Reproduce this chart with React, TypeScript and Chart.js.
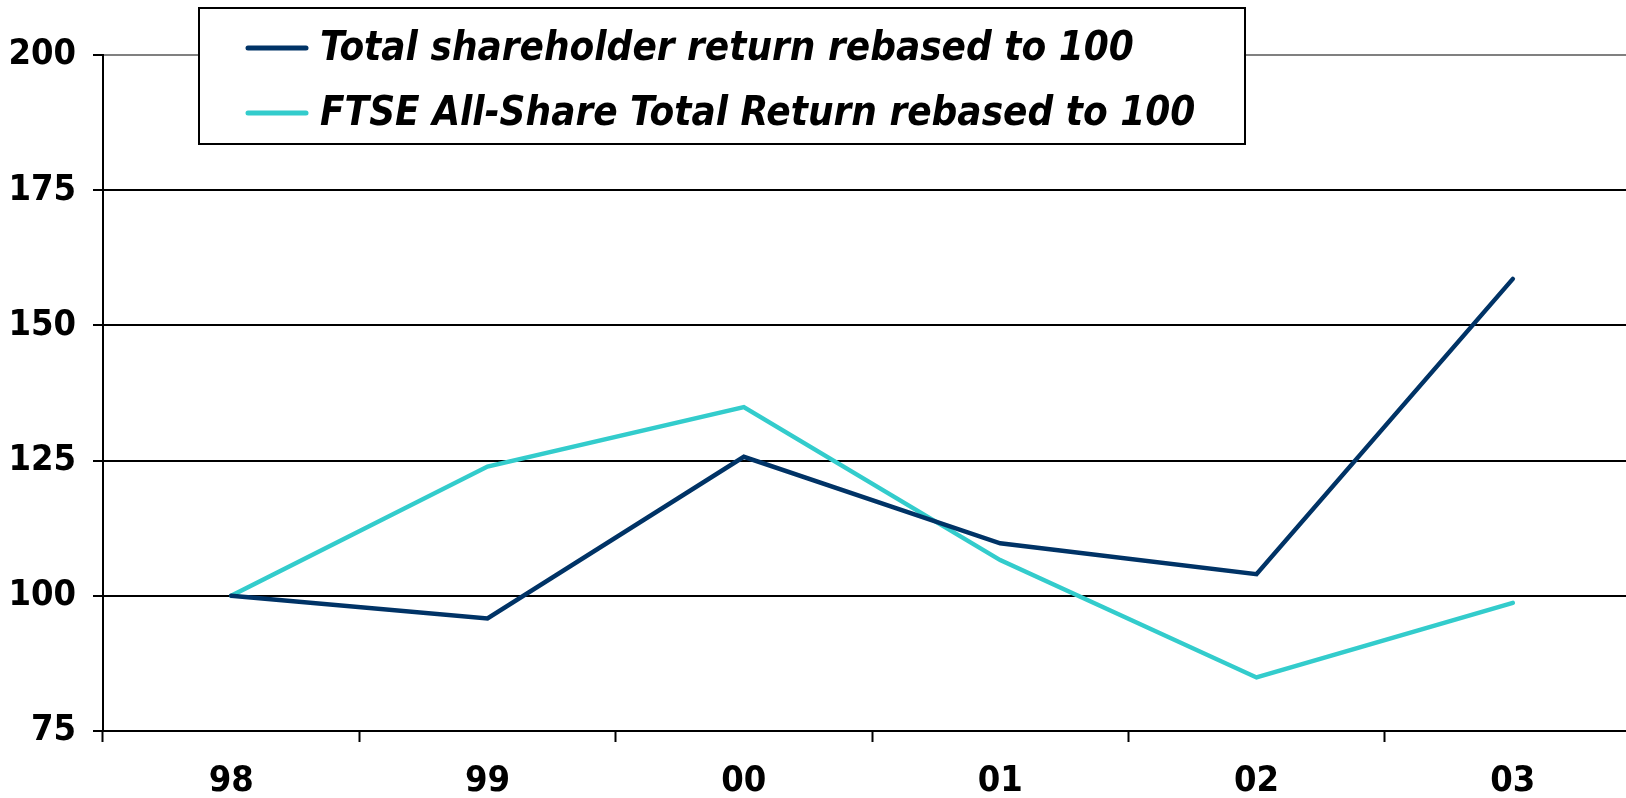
import { useEffect, useRef } from "react";
import { Chart, registerables } from "chart.js";

Chart.register(...registerables);

const years = ["98", "99", "00", "01", "02", "03"];
const shareholderReturn = [100, 95.8, 125.7, 109.7, 104.0, 158.6];
const ftseAllShare = [100, 123.9, 134.9, 106.6, 84.9, 98.7];
const seriesLabels = [
  "Total shareholder return rebased to 100",
  "FTSE All-Share Total Return rebased to 100",
];
const seriesColors = ["#003366", "#33CCCC"];
const yMin = 75;
const yMax = 200;
const yStep = 25;

const FONT = '"DejaVu Sans Condensed", "DejaVu Sans", sans-serif';

const boxLegend = {
  id: "boxLegend",
  afterDraw(chart: any) {
    const ctx = chart.ctx;
    ctx.save();
    const x0 = 199, y0 = 8, x1 = 1245, y1 = 144;
    ctx.fillStyle = "#fff";
    ctx.fillRect(x0, y0, x1 - x0, y1 - y0);
    ctx.lineWidth = 2;
    ctx.strokeStyle = "#000";
    ctx.strokeRect(x0, y0, x1 - x0, y1 - y0);
    const rows = [48, 113];
    chart.data.datasets.forEach((ds: any, i: number) => {
      const y = rows[i];
      ctx.beginPath();
      ctx.moveTo(248, y);
      ctx.lineTo(306, y);
      ctx.lineWidth = 5;
      ctx.lineCap = "round";
      ctx.strokeStyle = ds.borderColor;
      ctx.stroke();
      ctx.font = `italic bold 40px ${FONT}`;
      ctx.fillStyle = "#000";
      ctx.textBaseline = "middle";
      ctx.textAlign = "left";
      ctx.fillText(ds.label, 320, y + 2);
    });
    ctx.restore();
  },
};

export default function App() {
  const ref = useRef<HTMLCanvasElement>(null);
  useEffect(() => {
    if (!ref.current) return;
    const tickFont = { family: FONT, weight: "bold" as const, size: 36 };
    const chart = new Chart(ref.current, {
      type: "line",
      data: {
        labels: years,
        datasets: [
          {
            label: seriesLabels[0],
            data: shareholderReturn,
            borderColor: seriesColors[0],
            backgroundColor: seriesColors[0],
            borderWidth: 4.5,
            pointRadius: 0,
            tension: 0,
            borderCapStyle: "round",
          },
          {
            label: seriesLabels[1],
            data: ftseAllShare,
            borderColor: seriesColors[1],
            backgroundColor: seriesColors[1],
            borderWidth: 4.5,
            pointRadius: 0,
            tension: 0,
            borderCapStyle: "round",
          },
        ],
      },
      options: {
        animation: false,
        responsive: false,
        maintainAspectRatio: false,
        layout: { padding: { left: 0, right: 19, top: 55, bottom: 0 } },
        plugins: { legend: { display: false }, tooltip: { enabled: false } },
        scales: {
          x: {
            type: "category",
            offset: true,
            grid: {
              offset: true,
              drawOnChartArea: false,
              drawTicks: true,
              tickLength: 11,
              tickColor: "#000",
              tickWidth: 2,
            },
            border: { display: true, color: "#000", width: 2 },
            ticks: {
              font: tickFont,
              color: "#000",
              padding: 18,
              maxRotation: 0,
              autoSkip: false,
            },
            afterFit(s: any) {
              s.height = 67;
            },
          },
          y: {
            min: yMin,
            max: yMax,
            ticks: { stepSize: yStep, font: tickFont, color: "#000", padding: 17 },
            grid: {
              color: (c: any) => (c.tick && c.tick.value === yMax ? "#808080" : "#000"),
              lineWidth: 2,
              tickLength: 10,
              tickColor: "#000",
              tickWidth: 2,
            },
            border: { display: true, color: "#000", width: 2 },
            afterFit(s: any) {
              s.width = 103;
            },
          },
        },
      },
      plugins: [boxLegend],
    });
    return () => chart.destroy();
  }, []);
  return (
    <div
      style={{
        position: "absolute",
        left: 0,
        top: 0,
        width: 1626,
        height: 798,
        overflow: "hidden",
        background: "#fff",
      }}
    >
      <canvas
        ref={ref}
        width={1660}
        height={798}
        style={{ display: "block", width: 1660, height: 798 }}
      />
    </div>
  );
}
